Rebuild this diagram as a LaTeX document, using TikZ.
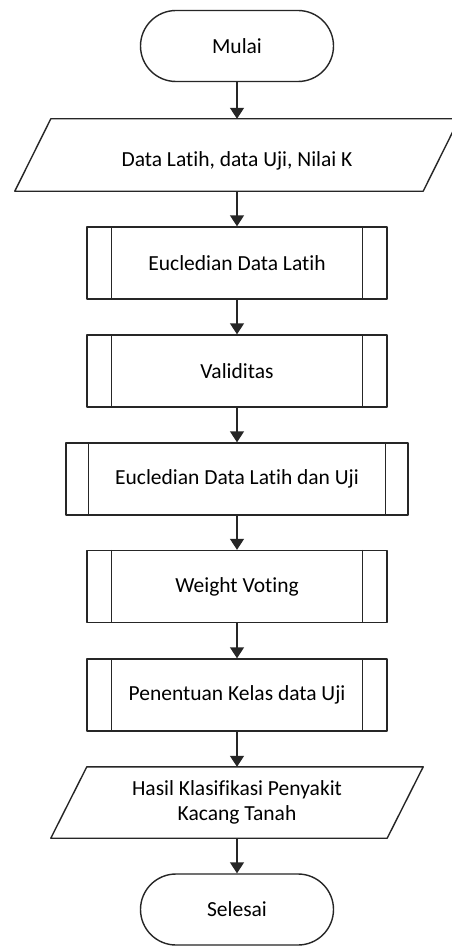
\documentclass[tikz,border=0pt]{standalone}
\usepackage{fontspec}
\setmainfont[Ligatures=NoCommon]{Carlito}
\usetikzlibrary{arrows.meta}

\tikzset{
  every node/.style={font=\fontsize{21.5}{25}\selectfont, text=black},
  line/.style={line width=1.4pt, draw=black!85, line join=round},
  flowarrow/.style={line, -{Triangle[width=14pt,length=11pt]}},
  terminal/.style={line, rounded corners=35.5pt, minimum width=193pt, minimum height=71pt, inner sep=0pt},
  process/.style={line, rectangle, minimum width=300pt, minimum height=72pt, inner sep=0pt},
  iobox/.style={rectangle, minimum width=408pt, minimum height=72pt, inner sep=0pt},
}

\begin{document}
\begin{tikzpicture}[x=1pt, y=-1pt]
  \useasboundingbox[fill=white] (0,0) rectangle (452,947);

  % start / end
  \node[terminal, draw] (mulai) at (237,46) {Mulai};

  % input data (node box = lower edge, upper edge shifted right)
  \node[iobox, label={[xshift=18pt, yshift=-6pt]center:Data Latih, data Uji, Nilai K}] (input) at (219,155) {};
  \draw[line] ([xshift=36pt]input.north west) -- ([xshift=36pt]input.north east)
              -- (input.south east) -- (input.south west) -- cycle;

  % predefined processes
  \node[process, draw] (p1) at (237,263) {Eucledian Data Latih};
  \node[process, draw] (p2) at (237,371) {Validitas};
  \node[process, draw, minimum width=342pt] (p3) at (237,479) {Eucledian Data Latih dan Uji};
  \node[process, draw] (p4) at (237,586.5) {Weight Voting};
  \node[process, draw] (p5) at (237,695) {Penentuan Kelas data Uji};
  \foreach \n/\d in {p1/25,p2/25,p3/23,p4/25,p5/25}{
    \draw[line] ([xshift=\d pt]\n.north west) -- ([xshift=\d pt]\n.south west);
    \draw[line] ([xshift=-\d pt]\n.north east) -- ([xshift=-\d pt]\n.south east);
  }

  % output
  \node[iobox, minimum width=336pt, minimum height=71pt,
        label={[xshift=18pt, align=center]center:Hasil Klasifikasi Penyakit\\Kacang Tanah}] (output) at (219,802.5) {};
  \draw[line] ([xshift=36pt]output.north west) -- ([xshift=36pt]output.north east)
              -- (output.south east) -- (output.south west) -- cycle;

  \node[terminal, draw] (selesai) at (237,909.5) {Selesai};

  % connectors
  \draw[flowarrow] (mulai.south) -- (mulai.south |- input.north);
  \draw[flowarrow] (mulai.south |- input.south) -- (p1.north);
  \draw[flowarrow] (p1.south) -- (p2.north);
  \draw[flowarrow] (p2.south) -- (p3.north);
  \draw[flowarrow] (p3.south) -- (p4.north);
  \draw[flowarrow] (p4.south) -- (p5.north);
  \draw[flowarrow] (p5.south) -- (p5.south |- output.north);
  \draw[flowarrow] (p5.south |- output.south) -- (selesai.north);
\end{tikzpicture}
\end{document}
